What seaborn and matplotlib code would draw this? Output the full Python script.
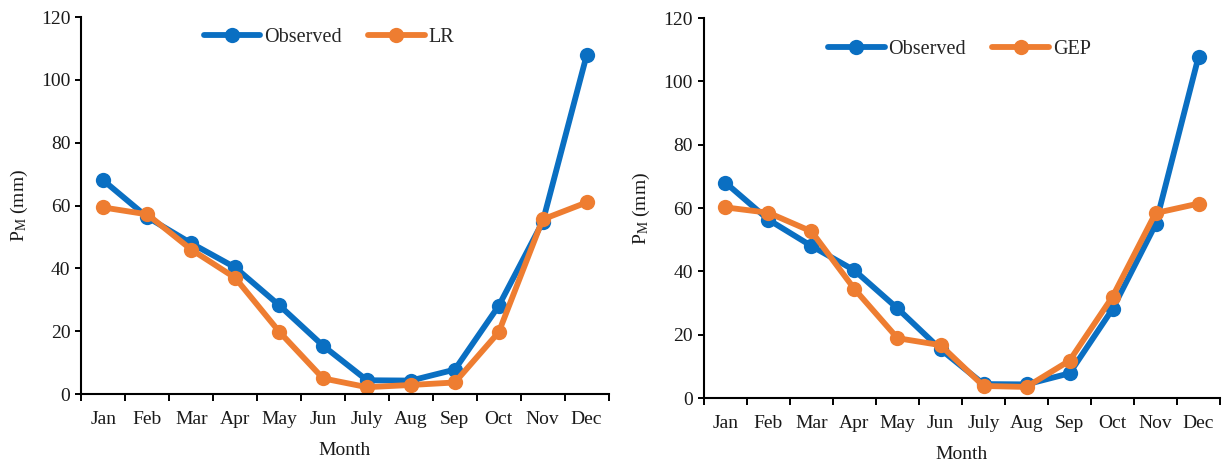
import matplotlib
matplotlib.use("Agg")
import matplotlib.pyplot as plt
import seaborn as sns
import pandas as pd
import numpy as np

months = ["Jan", "Feb", "Mar", "Apr", "May", "Jun", "July", "Aug", "Sep", "Oct", "Nov", "Dec"]
observed = [68.0, 56.3, 48.0, 40.3, 28.3, 15.4, 4.4, 4.3, 7.8, 28.1, 54.8, 107.8]
lr = [59.4, 57.2, 46.0, 37.0, 19.9, 5.0, 2.2, 2.9, 3.7, 19.7, 55.6, 61.0]
gep = [60.2, 58.5, 52.6, 34.4, 18.9, 16.7, 3.8, 3.5, 11.8, 32.0, 58.4, 61.4]
y_ticks = [0, 20, 40, 60, 80, 100, 120]

BLUE = "#0A6FC2"
ORANGE = "#EE7D31"

sns.set_style("ticks")
plt.rcParams["font.family"] = ["Liberation Serif", "DejaVu Serif"]
plt.rcParams["mathtext.fontset"] = "custom"
plt.rcParams["mathtext.rm"] = "Liberation Serif"
plt.rcParams["mathtext.it"] = "Liberation Serif:italic"

fig = plt.figure(figsize=(12.23, 4.62), dpi=100)
axL = fig.add_axes([0.0666, 0.147, 0.431, 0.816])
axR = fig.add_axes([0.5756, 0.1385, 0.422, 0.8225])

idx = np.arange(len(months))
FS = 14

def draw(ax, model_vals, model_name, leg_x, leg_y):
    df = pd.DataFrame({"Month": idx, "Observed": observed, model_name: model_vals})
    for col, color in [("Observed", BLUE), (model_name, ORANGE)]:
        sns.lineplot(data=df, x="Month", y=col, ax=ax, color=color, marker="o",
                     markersize=11, markeredgewidth=0, linewidth=4.2, label=col)
    ax.set_xlim(-0.5, 11.5)
    ax.set_ylim(0, 120)
    ax.set_yticks(y_ticks)
    ax.set_xticks(idx)
    ax.set_xticklabels(months)
    ax.set_xticks(np.arange(-0.5, 12, 1.0), minor=True)
    ax.tick_params(axis="x", which="major", length=0, pad=12, labelsize=FS)
    ax.tick_params(axis="x", which="minor", length=5, width=1.4, direction="out", color="black")
    ax.tick_params(axis="y", which="major", length=4, width=1.4, direction="out", pad=4,
                   labelsize=FS)
    ax.tick_params(axis="both", colors="black", labelcolor="#1a1a1a")
    for s in ["top", "right"]:
        ax.spines[s].set_visible(False)
    for s in ["left", "bottom"]:
        ax.spines[s].set_linewidth(1.5)
        ax.spines[s].set_color("black")
    ax.set_xlabel("Month", fontsize=FS, labelpad=10, color="#1a1a1a")
    ax.set_ylabel(r"P$_{\mathrm{M}}$ (mm)", fontsize=FS, labelpad=8, color="#1a1a1a")
    ax.legend(loc="center", bbox_to_anchor=(leg_x, leg_y), ncol=2, frameon=False,
              fontsize=14.5, handlelength=2.8, handletextpad=0.2, columnspacing=1.3,
              borderpad=0.2)

draw(axL, lr, "LR", 0.47, 0.945)
draw(axR, gep, "GEP", 0.495, 0.918)

fig.savefig("out.png", dpi=100, facecolor="white")
